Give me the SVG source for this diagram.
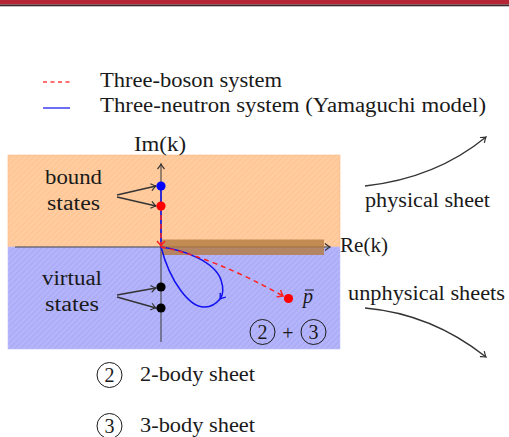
<svg xmlns="http://www.w3.org/2000/svg" width="509" height="437" viewBox="0 0 509 437">
<style>
text{font-family:"Liberation Serif","DejaVu Serif",serif;font-size:20px;fill:#1a1a1a}
.ax{stroke:#444;stroke-width:1.1;fill:none}
.arr{stroke:#333;stroke-width:1.3;fill:none;marker-end:url(#open)}
.circ{fill:none;stroke:#1a1a1a;stroke-width:1}
.blue{stroke:#1010F0;stroke-width:1.5;fill:none}
.red{stroke:#FF2020;stroke-width:1.5;fill:none;stroke-dasharray:5 4}
</style>
<defs>
<pattern id="hO" width="4" height="4" patternUnits="userSpaceOnUse" patternTransform="rotate(-45)">
<rect width="4" height="4" fill="#FFC796"/><line x1="0" y1="1" x2="4" y2="1" stroke="#FFD3AC" stroke-width="1"/>
</pattern>
<pattern id="hB" width="4" height="4" patternUnits="userSpaceOnUse" patternTransform="rotate(-45)">
<rect width="4" height="4" fill="#B5B5FC"/><line x1="0" y1="1" x2="4" y2="1" stroke="#A6A6F2" stroke-width="1"/>
</pattern>
<marker id="open" markerUnits="userSpaceOnUse" markerWidth="12" markerHeight="12" refX="0" refY="0" viewBox="-6 -6 12 12" orient="auto" overflow="visible">
<path d="M-5,-3.5 Q-1.5,-0.6 0,0 Q-1.5,0.6 -5,3.5" fill="none" stroke="#333" stroke-width="1.2"/>
</marker>
<marker id="openR" markerUnits="userSpaceOnUse" markerWidth="12" markerHeight="12" refX="0" refY="0" viewBox="-6 -6 12 12" orient="auto" overflow="visible">
<path d="M-5,-4 Q-1.5,-0.8 0,0 Q-1.5,0.8 -5,4" fill="none" stroke="#FF2020" stroke-width="1.5"/>
</marker>
<marker id="openB" markerUnits="userSpaceOnUse" markerWidth="12" markerHeight="12" refX="0" refY="0" viewBox="-6 -6 12 12" orient="auto" overflow="visible">
<path d="M-5,-3.5 Q-1.5,-0.6 0,0 Q-1.5,0.6 -5,3.5" fill="none" stroke="#1010F0" stroke-width="1.4"/>
</marker>
</defs>
<rect width="509" height="437" fill="#fff"/>
<rect x="0" y="0" width="509" height="4.5" fill="#B52535"/>
<rect x="0" y="4.5" width="509" height="1.8" fill="#3a2a2c"/>

<g id="legend">
<line x1="43" y1="82" x2="70" y2="82" stroke="#FF4040" stroke-width="1.3" stroke-dasharray="4 3.5"/>
<text x="100" y="87" textLength="182" lengthAdjust="spacingAndGlyphs">Three-boson system</text>
<line x1="43" y1="108" x2="70" y2="108" stroke="#2020F0" stroke-width="1.3"/>
<text x="100" y="112" textLength="386" lengthAdjust="spacingAndGlyphs">Three-neutron system (Yamaguchi model)</text>
</g>

<g id="plane">
<rect x="8" y="155" width="332" height="92" fill="url(#hO)" stroke="#FDB985" stroke-width="0.6"/>
<rect x="8" y="247" width="332" height="102" fill="url(#hB)" stroke="#C0C0FA" stroke-width="0.6"/>
</g>

<g id="connectors">
<line class="ax" x1="15" y1="247" x2="330" y2="247" marker-end="url(#open)"/>
<line class="ax" x1="161" y1="342" x2="161" y2="164" marker-end="url(#open)"/>
<rect x="161" y="239.5" width="163" height="15.5" fill="#B47A40" opacity="0.8"/>
<path class="arr" d="M117,195 L156,186"/>
<path class="arr" d="M117,197 L156,206"/>
<path class="arr" d="M117,295 L156,288"/>
<path class="arr" d="M117,297 L156,308"/>
<path class="arr" d="M365,186 C410,181 452,165 486,137"/>
<path class="arr" d="M365,308 C410,312 452,330 486,357"/>
<line class="blue" x1="161" y1="186" x2="161" y2="247"/>
<path class="blue" d="M161,247 C185,250 215,262 221,280 C224,289 223,295 220,299" marker-end="url(#openB)"/>
<path class="blue" d="M220,299 C215,305 210,307 205,307 C190,308 170,282 161,247"/>
<path class="red" d="M161,206 L161,246" marker-end="url(#openR)"/>
<path class="red" d="M161,247 Q215,258 283,296" marker-end="url(#openR)"/>
</g>

<g id="bound">
<text x="73.5" y="184" text-anchor="middle" textLength="57" lengthAdjust="spacingAndGlyphs">bound</text>
<text x="73.5" y="210" text-anchor="middle" textLength="53" lengthAdjust="spacingAndGlyphs">states</text>
<circle cx="161" cy="186" r="4.6" fill="#0000FF"/>
<circle cx="161" cy="206" r="4.6" fill="#FF0000"/>
</g>

<g id="virtual">
<text x="72" y="285" text-anchor="middle" textLength="60" lengthAdjust="spacingAndGlyphs">virtual</text>
<text x="72" y="311" text-anchor="middle" textLength="54" lengthAdjust="spacingAndGlyphs">states</text>
<circle cx="161" cy="287" r="4.6" fill="#000"/>
<circle cx="161" cy="308" r="4.6" fill="#000"/>
</g>

<g id="pbar">
<circle cx="288.5" cy="298.5" r="4.6" fill="#FF0000"/>
<text x="303" y="303" font-style="italic">p</text>
<line x1="305" y1="290" x2="314" y2="290" stroke="#1a1a1a" stroke-width="1"/>
</g>

<g id="axis-labels">
<text x="160" y="151" text-anchor="middle" textLength="52" lengthAdjust="spacingAndGlyphs">Im(k)</text>
<text x="340" y="252" textLength="48" lengthAdjust="spacingAndGlyphs">Re(k)</text>
</g>

<g id="sheets-label">
<circle class="circ" cx="262.5" cy="332" r="12.5"/>
<text x="262.5" y="339" text-anchor="middle">2</text>
<text x="288" y="339.5" text-anchor="middle" font-size="23">+</text>
<circle class="circ" cx="313.5" cy="332" r="12.5"/>
<text x="313.5" y="339" text-anchor="middle">3</text>
</g>

<g id="physical">
<text x="365" y="207" textLength="125" lengthAdjust="spacingAndGlyphs">physical sheet</text>
</g>
<g id="unphysical">
<text x="348" y="300" textLength="157" lengthAdjust="spacingAndGlyphs">unphysical sheets</text>
</g>

<g id="key2">
<circle class="circ" cx="109.5" cy="375" r="12.5"/>
<text x="109.5" y="382" text-anchor="middle">2</text>
<text x="140" y="381" textLength="115" lengthAdjust="spacingAndGlyphs">2-body sheet</text>
</g>
<g id="key3">
<circle class="circ" cx="109.5" cy="426" r="12.5"/>
<text x="109.5" y="433" text-anchor="middle">3</text>
<text x="140" y="432" textLength="115" lengthAdjust="spacingAndGlyphs">3-body sheet</text>
</g>
</svg>
